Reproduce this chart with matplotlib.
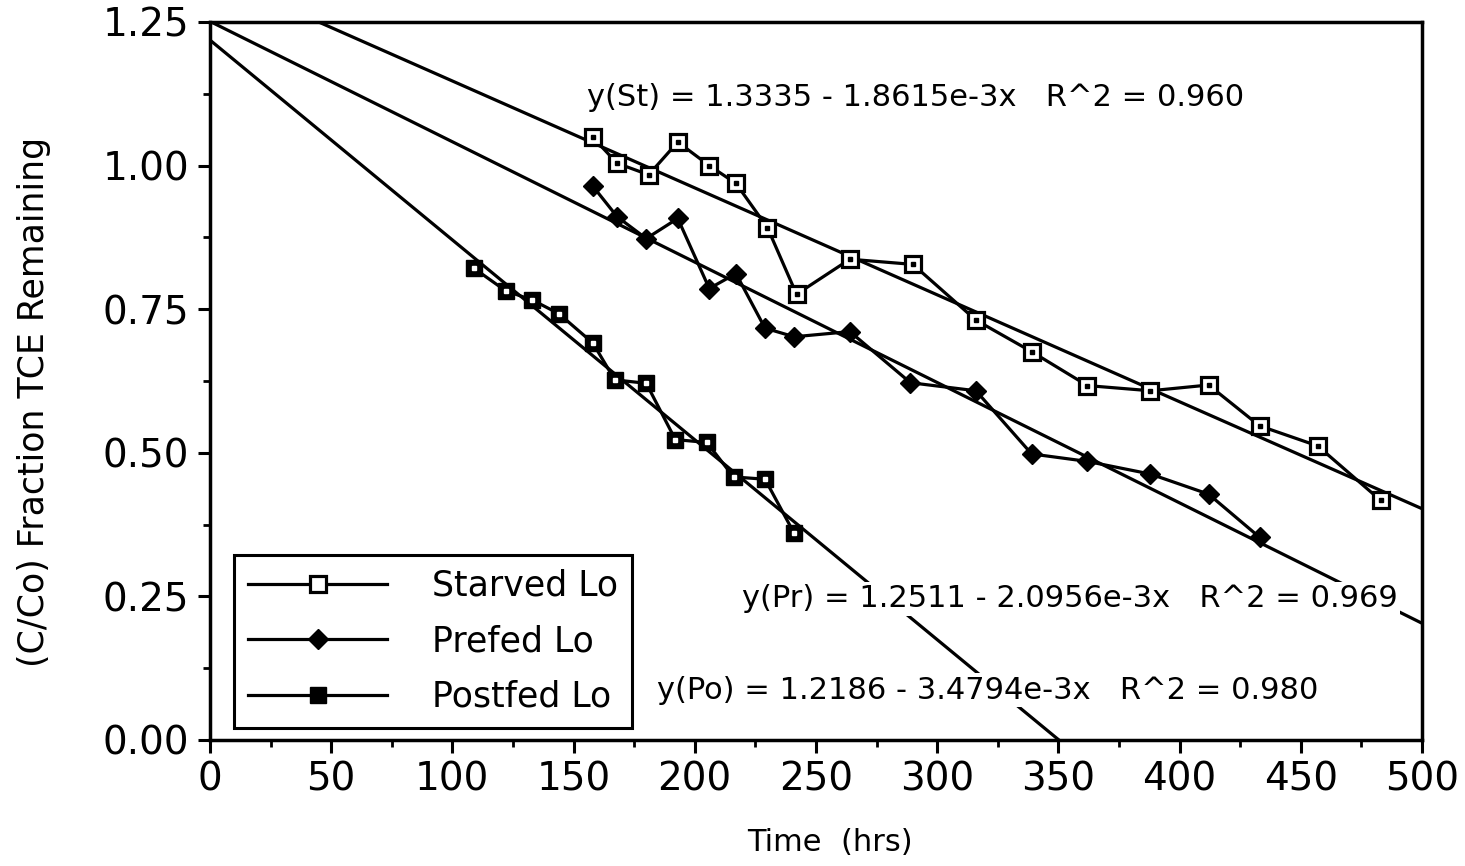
import matplotlib
matplotlib.use("Agg")
import matplotlib.pyplot as plt
import numpy as np
from matplotlib.ticker import MultipleLocator

plt.rcParams['font.family'] = ['DejaVu Sans']

# Data
starved_t = [158, 168, 181, 193, 206, 217, 230, 242, 264, 290, 316, 339, 362, 388, 412, 433, 457, 483]
starved_c = [1.049, 1.004, 0.984, 1.041, 1.000, 0.969, 0.892, 0.776, 0.837, 0.828, 0.731, 0.676, 0.617, 0.608, 0.618, 0.547, 0.512, 0.417]

prefed_t = [158, 168, 180, 193, 206, 217, 229, 241, 264, 289, 316, 339, 362, 388, 412, 433]
prefed_c = [0.964, 0.911, 0.873, 0.908, 0.786, 0.812, 0.717, 0.702, 0.711, 0.622, 0.608, 0.498, 0.485, 0.463, 0.428, 0.353]

postfed_t = [109, 122, 133, 144, 158, 167, 180, 192, 205, 216, 229, 241]
postfed_c = [0.821, 0.782, 0.766, 0.742, 0.691, 0.627, 0.621, 0.523, 0.518, 0.458, 0.454, 0.360]

# Regression fits (from the annotations)
fit_names = ["St", "Pr", "Po"]
fit_intercepts = [1.3335, 1.2511, 1.2186]
fit_slopes = [1.8615e-3, 2.0956e-3, 3.4794e-3]
fit_r2 = ["0.960", "0.969", "0.980"]
fit_slope_txt = ["1.8615e-3", "2.0956e-3", "3.4794e-3"]

x_ticks = [0, 50, 100, 150, 200, 250, 300, 350, 400, 450, 500]
y_ticks = [0.00, 0.25, 0.50, 0.75, 1.00, 1.25]

fig = plt.figure(figsize=(14.65, 8.66), dpi=100)
ax = fig.add_axes([0.1433, 0.1455, 0.8273, 0.8291])

lw = 2.3
# fit lines
xs = np.array([0.0, 500.0])
for b, m in zip(fit_intercepts, fit_slopes):
    ax.plot(xs, b - m * xs, color='black', lw=lw, zorder=2)

# data series
ax.plot(starved_t, starved_c, color='black', lw=lw, marker='s', ms=11,
        mfc='white', mec='black', mew=2.3, zorder=3, label='Starved Lo')
ax.plot(starved_t, starved_c, ls='none', marker='s', ms=2.5, color='black', zorder=4)

ax.plot(prefed_t, prefed_c, color='black', lw=lw, marker='D', ms=10,
        mfc='black', mec='black', zorder=3, label='Prefed Lo')

ax.plot(postfed_t, postfed_c, color='black', lw=lw, marker='s', ms=12,
        mfc='black', mec='black', zorder=3, label='Postfed Lo')
ax.plot(postfed_t, postfed_c, ls='none', marker='s', ms=2.5, color='white', zorder=4)

# annotations
txt_pos = [(155.5, 1.118), (219.5, 0.2455), (184.4, 0.087)]
for name, b, s, r2, (tx, ty) in zip(fit_names, fit_intercepts, fit_slope_txt, fit_r2, txt_pos):
    ax.text(tx, ty, f"y({name}) = {b:.4f} - {s}x   R^2 = {r2}", fontsize=22,
            va='center', ha='left', zorder=7,
            bbox=dict(facecolor='white', edgecolor='none', pad=1.5))

ax.set_xlim(0, 500)
ax.set_ylim(0, 1.25)
ax.set_xticks(x_ticks)
ax.set_yticks(y_ticks)
ax.set_yticklabels([f"{v:.2f}" for v in y_ticks])
ax.xaxis.set_minor_locator(MultipleLocator(25))
ax.yaxis.set_minor_locator(MultipleLocator(0.125))
ax.tick_params(axis='both', which='major', labelsize=28, length=9, width=2.2, direction='out', pad=6)
ax.tick_params(axis='both', which='minor', length=5, width=2, direction='out')
for sp in ax.spines.values():
    sp.set_linewidth(2.5)

ax.set_xlabel("Time  (hrs)", fontsize=22)
ax.xaxis.set_label_coords(0.5116, -0.122)
ax.set_ylabel("(C/Co) Fraction TCE Remaining", fontsize=25)
ax.yaxis.set_label_coords(-0.131, 0.471)

h, l = ax.get_legend_handles_labels()
leg = ax.legend(h, l, loc='lower left', bbox_to_anchor=(0.02, 0.017), fontsize=25,
                handlelength=4.0, handletextpad=1.3, borderpad=0.4, labelspacing=0.62,
                borderaxespad=0.0,
                frameon=True, fancybox=False, edgecolor='black', framealpha=1)
leg.get_frame().set_linewidth(2.2)
leg.set_zorder(6)

fig.savefig("out.png", dpi=100)
